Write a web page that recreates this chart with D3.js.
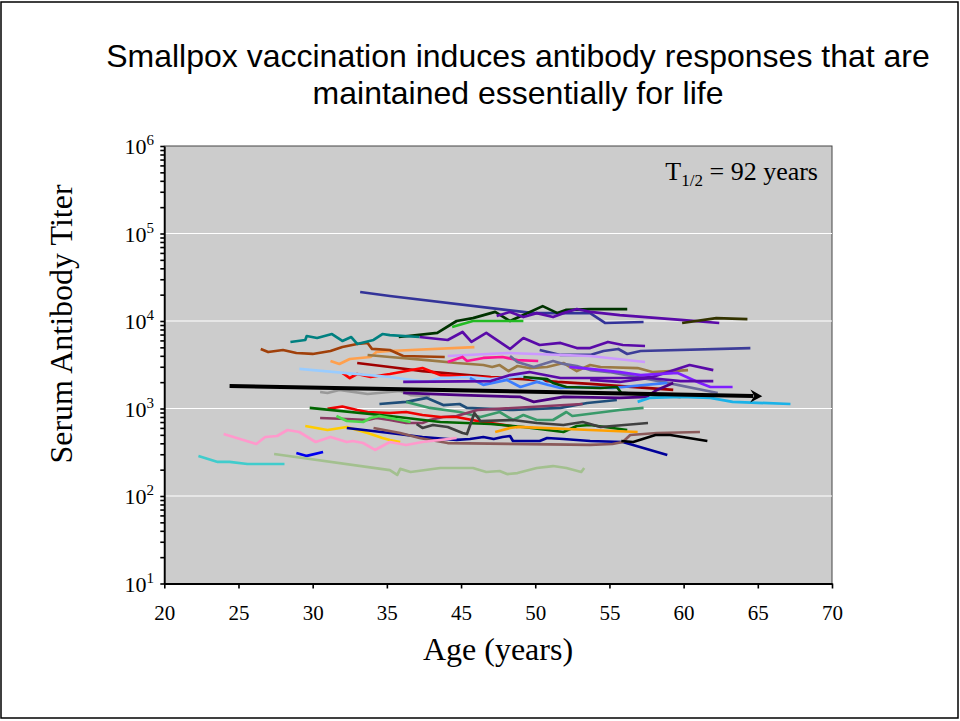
<!DOCTYPE html>
<html>
<head>
<meta charset="utf-8">
<script src="https://cdn.jsdelivr.net/npm/d3@7"></script>
<style>
  html, body { margin: 0; padding: 0; background: #ffffff; }
  svg { display: block; }
</style>
</head>
<body>
<svg id="chart" width="960" height="721"></svg>
<script>
// Age axis: tick positions and the labels printed under them
const ageTicks = [20, 25, 30, 35, 40, 45, 50, 55, 60, 65];
const ageTickLabels = ["20", "25", "30", "35", "45", "50", "55", "60", "65", "70"];
const titerDecades = [1, 2, 3, 4, 5, 6];

// Longitudinal antibody titers, one array of [age, titer] per subject
const s01 = [[33.2,21450],[35.2,19300],[44.9,12300],[46.7,12300],[48.7,12300],[49.7,9490],[52.3,9740]];
const s02 = [[35.8,6560],[38.4,7300],[39.7,10000],[40.8,10800],[42.3,12700],[43.3,10000],[44.2,11700],[45.5,14800],[46.5,12300],[47.1,13400],[48.7,13700],[51.2,13700]];
const s03 = [[39.4,8540],[40.8,10000],[44.2,10000]];
const s04 = [[42.4,11400],[43.3,12700],[44.2,11100],[45.1,12300],[46.2,11100],[46.9,12300],[47.8,13700],[48.7,12700],[50.7,11700],[54.8,10300],[57.4,9490]];
const s05 = [[37.2,6560],[39.1,6070],[40.1,7490],[40.7,5760],[41.7,7300],[43.3,4790],[44.2,6390],[45.3,5320],[46.7,5610],[47.8,4910],[48.7,4910],[49.9,5760],[50.9,5320],[52.4,5180]];
const s06 = [[45.3,4660],[46.7,4090],[48.7,4090],[49.6,4540],[50.6,4790],[51.2,4200],[52.1,4540],[59.5,4910]];
const s07 = [[39.1,3980],[43.1,4310],[48.7,3980],[52.4,3400]];
const s08 = [[31.2,3490],[31.8,3230],[32.5,3680],[33.9,3880],[34.3,4420],[35.2,4540],[40.9,5040]];
const s09 = [[26.5,4790],[27.0,4420],[28.0,4660],[28.9,4310],[30.0,4200],[31.2,4540],[32.0,5040],[33.0,5460],[33.7,5610],[34.0,4790],[35.2,4660],[36.1,3980],[38.9,3880]];
const s10 = [[28.5,5760],[29.5,6070],[29.6,6740],[30.3,6390],[31.3,7100],[32.0,5910],[32.6,6560],[33.0,5460],[34.1,6070],[34.7,7100],[35.2,6910],[37.2,6560]];
const s11 = [[33.7,4090],[35.2,3880],[37.7,3580],[39.7,3310],[41.5,3140],[42.1,2980],[42.6,3140],[43.2,2680],[43.8,3060],[44.6,2900],[45.8,2980],[46.9,3310],[47.8,2680],[48.7,3140],[49.4,2980],[51.9,2900],[52.9,2610],[55.3,2750]];
const s12 = [[39.1,3400],[40.1,3880],[40.4,3490],[41.5,3780],[42.8,3880],[43.8,3580],[45.2,3490]];
const s13 = [[43.3,3980],[43.8,3400],[44.9,2980],[46.2,3490],[46.9,3230],[47.8,3060],[48.7,2750],[50.0,2610],[52.9,2120],[57.3,1505]];
const s14 = [[33.0,3310],[35.2,2980],[37.4,2680],[39.7,2480],[42.0,2290],[44.2,2170],[46.5,2010],[48.7,1910],[54.3,1630]];
const s15 = [[32.0,2550],[32.5,2230],[33.0,2480],[33.9,2290],[35.2,2480],[37.4,2900],[38.6,2410],[40.8,2290],[42.6,2230]];
const s16 = [[29.1,2830],[35.2,2290],[37.7,2010],[38.6,2230],[40.6,2290],[42.0,2170],[44.0,2350],[45.3,2120],[45.9,1810]];
const s17 = [[40.6,2230],[41.5,1860],[43.1,2120],[44.0,1760],[45.1,2010],[46.7,1715],[48.0,1760],[50.2,1715],[53.9,1960]];
const s18 = [[44.2,2290],[45.8,2170],[46.2,1960],[47.1,1760],[49.4,1715],[50.5,1760],[50.8,1505],[54.8,1355]];
const s19 = [[36.1,2010],[42.0,2060],[43.3,2410],[44.6,2610],[46.7,2230],[49.4,2230],[51.6,2230],[52.9,2290],[55.4,3140],[57.0,2750]];
const s20 = [[47.3,2980],[48.7,2830],[50.7,2610],[52.1,2410],[54.6,2550],[56.1,1960],[56.8,1760],[58.3,1760]];
const s21 = [[48.7,2120],[50.7,2010],[52.7,2230],[54.8,2060],[57.0,2060]];
const s22 = [[30.5,1545],[31.0,1505],[31.8,1630],[33.7,1465],[35.9,1585],[36.6,1425],[37.9,1390]];
const s23 = [[34.5,1125],[36.3,1190],[37.7,1320],[38.8,1095],[39.9,1125],[40.4,1015],[43.5,961],[46.7,1015],[48.5,1155],[50.5,1250]];
const s24 = [[36.1,1505],[40.1,1425],[44.0,1355],[44.9,1190],[46.9,1355],[50.7,1320],[52.5,1355],[53.2,1630],[54.3,1960]];
const s25 = [[51.9,1190],[52.7,1320],[54.8,1355],[56.8,1320],[58.3,1190],[62.2,1125]];
const s26 = [[36.3,1190],[37.9,1015],[39.9,912],[41.3,800],[42.6,912],[43.5,739],[44.2,843],[45.1,739],[46.2,739],[47.1,912],[47.5,821],[50.7,961],[52.3,1015]];
const s27 = [[30.5,779],[32.3,759],[33.7,739],[34.3,779],[35.2,739],[36.3,683],[37.4,683],[37.9,739],[38.8,800],[39.7,821],[40.4,888],[41.1,961],[48.2,1125]];
const s28 = [[31.0,989],[32.0,1054],[33.0,961],[33.7,912],[35.2,888],[36.3,912],[37.4,843],[38.6,800],[39.7,800],[41.1,720],[43.8,615]];
const s29 = [[29.8,1015],[35.2,821],[38.6,701],[42.0,665],[44.2,615],[46.9,539],[47.8,631],[48.7,648],[51.2,568]];
const s30 = [[31.6,821],[32.3,720],[33.4,701],[33.9,779],[34.5,821],[35.2,779],[36.6,701]];
const s31 = [[37.0,665],[37.4,599],[38.1,648],[39.1,615],[40.1,525],[40.4,511],[40.9,888],[41.3,720],[43.5,739],[45.1,683],[46.9,648],[48.2,701],[48.7,665],[49.4,615],[52.6,683]];
const s32 = [[42.3,539],[43.3,599],[43.8,615],[48.7,568],[51.9,539]];
const s33 = [[29.5,631],[31.0,568],[32.3,615],[33.7,525],[34.7,460],[35.2,437],[35.9,414]];
const s34 = [[32.3,599],[35.2,525],[37.4,472],[39.7,437],[40.6,448],[41.5,472],[42.2,448],[42.8,472],[43.3,485],[43.5,425],[45.3,425],[45.8,460],[46.9,448],[48.7,425],[50.9,414],[53.9,294]];
const s35 = [[34.1,599],[35.9,525],[37.2,460],[39.1,403],[48.7,383],[50.2,393],[50.9,414],[51.4,498],[53.2,525],[56.1,539]];
const s36 = [[24.0,511],[26.2,393],[26.8,472],[27.6,485],[28.3,568],[29.1,539],[30.2,414],[31.2,472],[32.3,414],[32.7,425],[33.4,403],[34.2,336],[35.2,414],[36.3,383],[37.4,414],[39.7,460]];
const s37 = [[22.3,287],[23.6,245],[24.4,245],[25.6,232],[28.1,232]];
const s38 = [[28.9,310],[29.6,287],[30.7,318]];
const s39 = [[27.4,302],[35.2,198],[35.7,174],[35.9,204],[36.6,188],[38.6,209],[40.8,209],[41.7,188],[42.6,193],[43.1,178],[43.8,183],[45.1,209],[46.2,220],[47.1,209],[48.1,188],[48.3,209]];
const s40 = [[50.8,425],[51.6,414],[53.1,498],[54.1,498],[56.6,425]];
const s41 = [[54.9,9490],[57.2,10800],[59.3,10500]];

const subjects = [s01,s02,s03,s04,s05,s06,s07,s08,s09,s10,s11,s12,s13,s14,s15,s16,s17,s18,s19,s20,
                  s21,s22,s23,s24,s25,s26,s27,s28,s29,s30,s31,s32,s33,s34,s35,s36,s37,s38,s39,s40,s41];

// Population trend: starting point and half-life of the fitted decay
const trendStart = [24.4, 1810];
const trendEndAge = 60.3;
const halfLifeYears = 92;

// Line colour for each subject, same order as `subjects`
const subjectColors = ["#333399","#003300","#22bb22","#5a0aa8","#5a0aa8","#3d3d99","#cc99ff","#ffa04d","#a0400a","#008080",
                       "#9b7a45","#ff1493","#6b6b9b","#a00000","#ff0000","#99ccff","#3b7dff","#004d00","#5a0aa8","#7f1fff",
                       "#5a0aa8","#999999","#1f4e79","#4b0082","#1ab2e8","#3a9a6a","#8b3a62","#ee0000","#006600","#4cd94c",
                       "#404040","#ffa000","#ffcc00","#000099","#8b5a5a","#ff99cc","#40cccc","#0000ee","#a3c08f","#000000",
                       "#333300"];

const svg = d3.select("#chart");
const serif = "'Liberation Serif', 'Times New Roman', serif";
const sans = "'Liberation Sans', Arial, sans-serif";

// Slide frame
svg.append("rect")
  .attr("x", 1).attr("y", 2).attr("width", 957).attr("height", 716)
  .attr("fill", "none").attr("stroke", "#000").attr("stroke-width", 1.5);

// Title
const title = svg.append("text")
  .attr("text-anchor", "middle")
  .attr("font-family", sans).attr("font-size", 32).attr("fill", "#000");
title.append("tspan").attr("x", 518).attr("y", 67).text("Smallpox vaccination induces antibody responses that are");
title.append("tspan").attr("x", 518).attr("y", 104).text("maintained essentially for life");

const plot = { left: 164.3, right: 832, top: 146, bottom: 583.5 };

const x = d3.scaleLinear().domain([20, 65]).range([plot.left, plot.right]);
const y = d3.scaleLog().domain([10, 1e6]).range([plot.bottom, plot.top]);

// Plot background
svg.append("rect")
  .attr("x", plot.left).attr("y", plot.top)
  .attr("width", plot.right - plot.left).attr("height", plot.bottom - plot.top)
  .attr("fill", "#cccccc").attr("stroke", "#444").attr("stroke-width", 1);

// Horizontal gridlines at each decade
svg.append("g").selectAll("line")
  .data(titerDecades.slice(1, -1).map(p => Math.pow(10, p)))
  .join("line")
  .attr("x1", plot.left).attr("x2", plot.right)
  .attr("y1", d => y(d)).attr("y2", d => y(d))
  .attr("stroke", "#ffffff").attr("stroke-width", 1.2);

// Subject lines
const line = d3.line().x(d => x(d[0])).y(d => y(d[1]));
svg.append("g").selectAll("path")
  .data(subjects)
  .join("path")
  .attr("d", line)
  .attr("fill", "none")
  .attr("stroke", (d, i) => subjectColors[i])
  .attr("stroke-width", 2.7)
  .attr("stroke-linejoin", "round");

// Trend arrow from the half-life decay
const trendEnd = [trendEndAge, trendStart[1] * Math.pow(0.5, (trendEndAge - trendStart[0]) / halfLifeYears)];
const x0 = x(trendStart[0]), y0 = y(trendStart[1]);
const x1 = x(trendEnd[0]), y1 = y(trendEnd[1]);
const ang = Math.atan2(y1 - y0, x1 - x0);
const headLen = 12, headHalf = 6.5;
const bx = x1 - headLen * Math.cos(ang), by = y1 - headLen * Math.sin(ang);
svg.append("line")
  .attr("x1", x0).attr("y1", y0)
  .attr("x2", bx + 3 * Math.cos(ang)).attr("y2", by + 3 * Math.sin(ang))
  .attr("stroke", "#000").attr("stroke-width", 4);
const nx = -Math.sin(ang), ny = Math.cos(ang);
svg.append("path")
  .attr("d", `M${x1},${y1} L${bx + headHalf * nx},${by + headHalf * ny} L${bx + 4 * Math.cos(ang)},${by + 4 * Math.sin(ang)} L${bx - headHalf * nx},${by - headHalf * ny} Z`)
  .attr("fill", "#000");

// Y axis with minor ticks
const minorTicks = [];
for (let p = 1; p < 6; p++) for (let m = 1; m <= 9; m++) minorTicks.push(m * Math.pow(10, p));
minorTicks.push(1e6);
const yAxis = svg.append("g")
  .attr("transform", `translate(${plot.left},0)`)
  .call(d3.axisLeft(y).tickValues(minorTicks).tickSize(4).tickSizeOuter(0).tickFormat(""));
yAxis.select(".domain").attr("stroke", "#000").attr("stroke-width", 1.8);
yAxis.selectAll(".tick line").attr("stroke", "#000").attr("stroke-width", 1.6);

// Decade labels as powers of ten
const yLabels = svg.append("g")
  .attr("font-family", serif).attr("font-size", 22).attr("fill", "#000");
titerDecades.forEach(p => {
  const t = yLabels.append("text")
    .attr("x", 154).attr("y", y(Math.pow(10, p)) + 8)
    .attr("text-anchor", "end");
  t.append("tspan").text("10");
  t.append("tspan").attr("font-size", 15).attr("dy", -9).text(p);
});

// X axis
const xAxis = svg.append("g")
  .attr("transform", `translate(0,${plot.bottom})`)
  .call(d3.axisBottom(x).tickValues(ageTicks).tickSize(5).tickSizeOuter(0)
    .tickFormat((d, i) => ageTickLabels[i]));
xAxis.select(".domain").attr("stroke", "#000").attr("stroke-width", 1.8);
xAxis.selectAll(".tick line").attr("stroke", "#000").attr("stroke-width", 1.6);
xAxis.selectAll(".tick text")
  .attr("font-family", serif).attr("font-size", 21).attr("fill", "#000")
  .attr("dy", null).attr("y", 36);

// Axis titles
svg.append("text")
  .attr("x", 498).attr("y", 660)
  .attr("text-anchor", "middle")
  .attr("font-family", serif).attr("font-size", 32).attr("fill", "#000")
  .text("Age (years)");
svg.append("text")
  .attr("transform", "translate(72,324) rotate(-90)")
  .attr("text-anchor", "middle")
  .attr("font-family", serif).attr("font-size", 32).attr("fill", "#000")
  .text("Serum Antibody Titer");

// Half-life annotation
const hl = svg.append("text")
  .attr("x", 818).attr("y", 180)
  .attr("text-anchor", "end")
  .attr("font-family", serif).attr("font-size", 26).attr("fill", "#000");
hl.append("tspan").text("T");
hl.append("tspan").attr("font-size", 17).attr("dy", 6).text("1/2");
hl.append("tspan").attr("dy", -6).text(` = ${halfLifeYears} years`);
</script>
</body>
</html>
